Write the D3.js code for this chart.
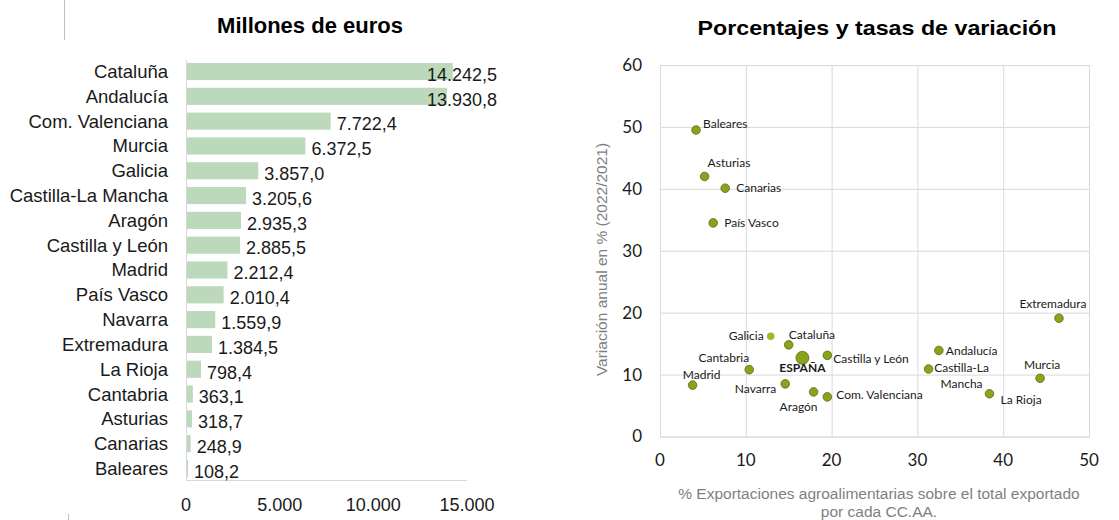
<!DOCTYPE html>
<meta charset="utf-8">
<head>
<style>
  body { margin: 0; background: #fff; }
  svg text { font-family: "Liberation Sans", Arial, sans-serif; }
  .lbl { font-family: Lato, "Open Sans", sans-serif !important; font-size: 12px; fill: #1a1a1a; }
</style>
</head>
<body>
<svg id="chart" width="1119" height="520"></svg>
<script src="https://d3js.org/d3.v7.min.js"></script>
<script>
// left chart: millones de euros
var regiones = ["Cataluña", "Andalucía", "Com. Valenciana", "Murcia", "Galicia", "Castilla-La Mancha",
  "Aragón", "Castilla y León", "Madrid", "País Vasco", "Navarra", "Extremadura", "La Rioja",
  "Cantabria", "Asturias", "Canarias", "Baleares"];
var millones = [14242.5, 13930.8, 7722.4, 6372.5, 3857.0, 3205.6, 2935.3, 2885.5, 2212.4, 2010.4,
  1559.9, 1384.5, 798.4, 363.1, 318.7, 248.9, 108.2];
var ticksEuros = [0, 5000, 10000, 15000];

// right chart: % exportaciones (x) vs variacion anual (y)
var nombres = ["Baleares", "Asturias", "Canarias", "País Vasco", "Extremadura", "Galicia", "Cataluña",
  "ESPAÑA", "Castilla y León", "Andalucía", "Castilla-La Mancha", "Cantabria", "Madrid", "Navarra",
  "Aragón", "Com. Valenciana", "La Rioja", "Murcia"];
var pctExport = [4.2, 5.2, 7.6, 6.2, 46.5, 12.9, 15.0, 16.6, 19.5, 32.5, 31.3, 10.4, 3.8, 14.6, 17.9, 19.5, 38.4, 44.3];
var variacion = [49.5, 42.0, 40.1, 34.5, 19.1, 16.2, 14.8, 12.7, 13.1, 13.9, 10.9, 10.8, 8.3, 8.5, 7.2, 6.4, 6.9, 9.4];
var ticksX = [0, 10, 20, 30, 40, 50];
var ticksY = [0, 10, 20, 30, 40, 50, 60];

var fmt = d3.formatLocale({decimal: ",", thousands: ".", grouping: [3], currency: ["", "€"]});
var f1 = fmt.format(",.1f"), f0 = fmt.format(",.0f");

var svg = d3.select("#chart");

// decorative lines on the left
svg.append("line").attr("x1", 64.5).attr("x2", 64.5).attr("y1", 0).attr("y2", 40).attr("stroke", "#bfbfbf");
svg.append("line").attr("x1", 68.5).attr("x2", 68.5).attr("y1", 514).attr("y2", 520).attr("stroke", "#bfbfbf");

// ---------- bar chart ----------
svg.append("text").attr("x", 310).attr("y", 33).attr("text-anchor", "middle")
  .style("font-size", "22px").style("font-weight", "bold").text("Millones de euros");

var x = d3.scaleLinear().domain([0, 15000]).range([186, 467]);
var y = d3.scaleBand().domain(regiones).range([60, 480]).paddingInner(0.31).paddingOuter(0.12);

var bars = svg.append("g");
bars.selectAll("rect").data(regiones).join("rect")
  .attr("x", x(0))
  .attr("y", d => y(d))
  .attr("width", (d, i) => x(millones[i]) - x(0))
  .attr("height", y.bandwidth())
  .attr("fill", "#bcd9bb");

bars.append("line").attr("x1", x(0) + 0.5).attr("x2", x(0) + 0.5).attr("y1", 60).attr("y2", 480).attr("stroke", "#d9d9d9");
bars.append("line").attr("x1", x(0)).attr("x2", 467).attr("y1", 480.5).attr("y2", 480.5).attr("stroke", "#d9d9d9");

bars.selectAll(".cat").data(regiones).join("text").attr("class", "cat")
  .attr("x", 168).attr("y", d => y(d) + y.bandwidth() / 2).attr("dy", "0.35em")
  .attr("text-anchor", "end").style("font-size", "18.5px").attr("fill", "#1a1a1a")
  .text(d => d);

bars.selectAll(".val").data(regiones).join("text").attr("class", "val")
  .attr("y", d => y(d) + y.bandwidth() / 2 + 3).attr("dy", "0.35em")
  .style("font-size", "18px").attr("fill", "#1a1a1a")
  .text((d, i) => f1(millones[i]))
  .each(function(d, i) {
    var w = this.getComputedTextLength();
    var px = x(millones[i]) + 6;
    if (px + w > 497) px = 497 - w;
    d3.select(this).attr("x", px);
  });

bars.selectAll(".tick").data(ticksEuros).join("text").attr("class", "tick")
  .attr("x", d => x(d)).attr("y", 505).attr("dy", "0.35em").attr("text-anchor", "middle")
  .style("font-size", "18px").attr("fill", "#1a1a1a").text(d => f0(d));

// ---------- scatter ----------
svg.append("text").attr("x", 877).attr("y", 35).attr("text-anchor", "middle")
  .attr("textLength", 359).attr("lengthAdjust", "spacingAndGlyphs")
  .style("font-size", "21px").style("font-weight", "bold").text("Porcentajes y tasas de variación");

var sx = d3.scaleLinear().domain([0, 50]).range([660, 1089]);
var sy = d3.scaleLinear().domain([0, 60]).range([436.5, 65]);

var sc = svg.append("g");
sc.append("g").attr("transform", "translate(0,436.5)")
  .call(d3.axisBottom(sx).tickValues(ticksX).tickSize(-(436.5 - 65)).tickFormat(""))
  .call(g => g.select(".domain").attr("stroke", "#d9d9d9"))
  .call(g => g.selectAll(".tick line").attr("stroke", "#d9d9d9"));
sc.append("g").attr("transform", "translate(660,0)")
  .call(d3.axisLeft(sy).tickValues(ticksY).tickSize(-(1089 - 660)).tickFormat(""))
  .call(g => g.select(".domain").remove())
  .call(g => g.selectAll(".tick line").attr("stroke", "#d9d9d9"));

sc.selectAll(".xt").data(ticksX).join("text").attr("class", "xt lbl")
  .attr("x", d => sx(d)).attr("y", 460).attr("dy", "0.35em").attr("text-anchor", "middle")
  .style("font-size", "17px").text(d => d);
sc.selectAll(".yt").data(ticksY).join("text").attr("class", "yt lbl")
  .attr("x", 642).attr("y", d => sy(d)).attr("dy", "0.35em").attr("text-anchor", "end")
  .style("font-size", "17px").text(d => d);

sc.append("text").attr("x", 879).attr("y", 498.5).attr("text-anchor", "middle")
  .style("font-size", "15.5px").attr("fill", "#7f7f7f")
  .text("% Exportaciones agroalimentarias sobre el total exportado");
sc.append("text").attr("x", 879).attr("y", 516.5).attr("text-anchor", "middle")
  .style("font-size", "15.5px").attr("fill", "#7f7f7f").text("por cada CC.AA.");
sc.append("text").attr("transform", "translate(607,259.5) rotate(-90)").attr("text-anchor", "middle")
  .style("font-size", "15.5px").attr("fill", "#7f7f7f").text("Variación anual en % (2022/2021)");

// label placement per point: [dx, dy, anchor]
var pos = {
  "Baleares": [7, -6, "start"], "Asturias": [3, -14, "start"], "Canarias": [11, 0, "start"],
  "País Vasco": [11, 0, "start"], "Extremadura": [-6, -14, "middle"], "Galicia": [-7, 0, "end"],
  "Cataluña": [0, -10, "start"], "ESPAÑA": [0, 10, "middle"], "Castilla y León": [6, 3, "start"],
  "Andalucía": [7, 0, "start"], "Castilla-La Mancha": [33, -1, "middle"], "Cantabria": [0, -12, "end"],
  "Madrid": [9, -10, "middle"], "Navarra": [-9, 5, "end"], "Aragón": [-15, 15, "middle"],
  "Com. Valenciana": [9, -2, "start"], "La Rioja": [11, 6, "start"], "Murcia": [2, -13, "middle"]
};

sc.selectAll("circle").data(nombres).join("circle")
  .attr("cx", (d, i) => sx(pctExport[i]))
  .attr("cy", (d, i) => sy(variacion[i]))
  .attr("r", d => d === "ESPAÑA" ? 6.5 : (d === "Galicia" ? 3.8 : 4.3))
  .attr("fill", d => d === "Galicia" ? "#9bbb24" : "#8aa31c")
  .attr("stroke", d => d === "Galicia" ? "none" : "#5c6b12")
  .attr("stroke-width", 0.8);

sc.selectAll(".pl").data(nombres).join("text").attr("class", "pl lbl")
  .attr("x", (d, i) => sx(pctExport[i]) + pos[d][0])
  .attr("y", (d, i) => sy(variacion[i]) + pos[d][1])
  .attr("dy", "0.35em")
  .attr("text-anchor", d => pos[d][2])
  .style("font-weight", d => d === "ESPAÑA" ? "bold" : "normal")
  .each(function(d) {
    var t = d3.select(this);
    if (d === "Castilla-La Mancha") {
      t.append("tspan").attr("x", t.attr("x")).text("Castilla-La");
      t.append("tspan").attr("x", t.attr("x")).attr("dy", "16").text("Mancha");
    } else {
      t.text(d);
    }
  });
</script>
</body>
